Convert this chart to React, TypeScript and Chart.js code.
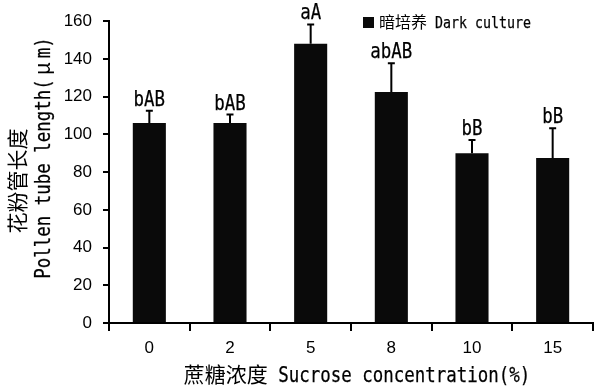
import React, { useEffect, useRef } from 'react';
import { Chart, registerables } from 'chart.js';

Chart.register(...registerables);

const categories = ['0', '2', '5', '8', '10', '15'];
const means = [106, 106, 148, 122.5, 90, 87.5];
const errors = [6.5, 4.5, 10.3, 15.2, 7, 15.8];
const letters = ['bAB', 'bAB', 'aA', 'abAB', 'bB', 'bB'];
const yMin = 0;
const yMax = 160;
const yStep = 20;
const legendLabel = '暗培养 Dark culture';
const xTitle = '蔗糖浓度 Sucrose concentration(%)';
const yTitleLines = ['花粉管长度', 'Pollen tube length(μm)'];

const CJK_RE = /[\u3000-\u9fff\uff00-\uffef\u00b5\u03bc]/;
const WIDE_SYMBOL_RE = /[\u00b5\u03bc]/;
const MONO_SX = 0.5 / 0.602;

function splitRuns(text: string) {
  const runs: { cjk: boolean; t: string }[] = [];
  for (const ch of text) {
    const c = CJK_RE.test(ch);
    if (runs.length && runs[runs.length - 1].cjk === c) runs[runs.length - 1].t += ch;
    else runs.push({ cjk: c, t: ch });
  }
  return runs;
}

function cjkAdvance(ctx: CanvasRenderingContext2D, ch: string, size: number) {
  return WIDE_SYMBOL_RE.test(ch) ? size : ctx.measureText(ch).width;
}

function mixedWidth(ctx: CanvasRenderingContext2D, text: string, size: number) {
  let w = 0;
  for (const r of splitRuns(text)) {
    if (r.cjk) {
      ctx.font = `${size}px "Noto Sans CJK SC"`;
      for (const ch of r.t) w += cjkAdvance(ctx, ch, size);
    } else {
      ctx.font = `${size}px "DejaVu Sans Mono"`;
      w += ctx.measureText(r.t).width * MONO_SX;
    }
  }
  return w;
}

function drawMixed(
  ctx: CanvasRenderingContext2D,
  text: string,
  x: number,
  y: number,
  size: number,
  align: 'left' | 'center'
) {
  const total = mixedWidth(ctx, text, size);
  let cx = align === 'center' ? x - total / 2 : x;
  ctx.textAlign = 'left';
  ctx.textBaseline = 'alphabetic';
  ctx.fillStyle = '#000';
  ctx.strokeStyle = '#000';
  for (const r of splitRuns(text)) {
    if (r.cjk) {
      ctx.font = `${size}px "Noto Sans CJK SC"`;
      for (const ch of r.t) {
        const adv = cjkAdvance(ctx, ch, size);
        const gw = ctx.measureText(ch).width;
        ctx.fillText(ch, cx + (adv - gw) / 2, y);
        cx += adv;
      }
    } else {
      ctx.font = `${size}px "DejaVu Sans Mono"`;
      const w = ctx.measureText(r.t).width;
      ctx.save();
      ctx.translate(cx, y);
      ctx.scale(MONO_SX, 1);
      ctx.fillText(r.t, 0, 0);
      ctx.lineWidth = 0.25;
      ctx.strokeText(r.t, 0, 0);
      ctx.restore();
      cx += w * MONO_SX;
    }
  }
}

const extrasPlugin = {
  id: 'extras',
  afterDatasetsDraw(chart: any) {
    const ctx: CanvasRenderingContext2D = chart.ctx;
    const meta = chart.getDatasetMeta(0);
    const yScale = chart.scales.y;
    ctx.save();
    meta.data.forEach((bar: any, i: number) => {
      const x = bar.x;
      const yTop = yScale.getPixelForValue(means[i] + errors[i]);
      const yMid = yScale.getPixelForValue(means[i]);
      ctx.strokeStyle = '#000';
      ctx.lineWidth = 2;
      ctx.beginPath();
      ctx.moveTo(x, yMid);
      ctx.lineTo(x, yTop);
      ctx.moveTo(x - 3.5, yTop);
      ctx.lineTo(x + 3.5, yTop);
      ctx.stroke();
      drawMixed(ctx, letters[i], x, yTop - 5, 21, 'center');
    });
    ctx.restore();
  },
  afterDraw(chart: any) {
    const ctx: CanvasRenderingContext2D = chart.ctx;
    const area = chart.chartArea;
    ctx.save();
    // legend
    ctx.fillStyle = '#0a0a0a';
    ctx.fillRect(363, 17, 11, 11);
    drawMixed(ctx, legendLabel, 379, 28, 16, 'left');
    // x title
    drawMixed(ctx, xTitle, (area.left + area.right) / 2 + 6, 382, 21, 'center');
    // y title (two lines, each centred on its own)
    ctx.save();
    ctx.translate(25, 181);
    ctx.rotate(-Math.PI / 2);
    drawMixed(ctx, yTitleLines[0], 0, 0, 21, 'center');
    ctx.restore();
    ctx.save();
    ctx.translate(50, 158);
    ctx.rotate(-Math.PI / 2);
    drawMixed(ctx, yTitleLines[1], 0, 0, 21, 'center');
    ctx.restore();
    ctx.restore();
  },
};

export default function App() {
  const ref = useRef<HTMLCanvasElement | null>(null);
  useEffect(() => {
    if (!ref.current) return;
    const tickFont = { family: '"Liberation Sans"', size: 17 };
    const chart = new Chart(ref.current, {
      type: 'bar',
      data: {
        labels: categories,
        datasets: [
          {
            label: legendLabel,
            data: means,
            backgroundColor: '#0a0a0a',
            borderWidth: 0,
            barPercentage: 0.41,
            categoryPercentage: 1,
          },
        ],
      },
      options: {
        animation: false,
        responsive: true,
        maintainAspectRatio: false,
        layout: { padding: { top: 19, right: 1, left: 0, bottom: 0 } },
        plugins: { legend: { display: false }, tooltip: { enabled: false } },
        scales: {
          x: {
            grid: {
              offset: true,
              drawOnChartArea: false,
              drawTicks: true,
              tickLength: 8,
              color: '#000',
              lineWidth: 2,
            },
            border: { display: true, color: '#000', width: 2 },
            ticks: { color: '#000', font: tickFont, padding: 7 },
            afterFit: (scale: any) => {
              scale.height = 65;
            },
          },
          y: {
            min: yMin,
            max: yMax,
            grid: {
              drawOnChartArea: false,
              drawTicks: true,
              tickLength: 6,
              color: '#000',
              lineWidth: 2,
            },
            border: { display: true, color: '#000', width: 2 },
            ticks: { stepSize: yStep, color: '#000', font: tickFont, padding: 11 },
            afterFit: (scale: any) => {
              scale.width = 109;
            },
          },
        },
      },
      plugins: [extrasPlugin],
    });
    return () => chart.destroy();
  }, []);
  return (
    <div style={{ position: 'absolute', left: 0, top: 0, width: 594, height: 388, background: '#fff' }}>
      <canvas ref={ref} />
    </div>
  );
}
